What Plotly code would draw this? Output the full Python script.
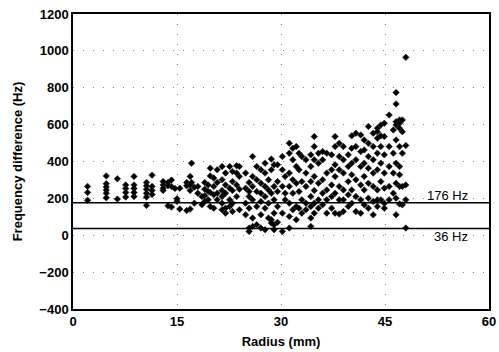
import plotly.graph_objects as go

# Radius columns (mm) and the frequency differences (Hz) read at each column
radius_cols = [2.1, 4.8, 6.4, 7.6, 8.8, 10.6, 11.4, 13.0, 13.7, 14.2, 14.7, 15.0, 15.4,
               16.4, 16.9, 17.1, 17.5, 18.0, 18.6, 19.0, 19.5, 19.8, 20.3, 20.8, 21.5,
               22.0, 22.6, 23.0, 23.6, 24.0, 24.9, 25.4, 25.9, 26.5, 27.1, 27.7, 28.2,
               28.6, 29.0, 29.5, 30.2, 30.6, 31.2, 31.7, 32.2, 32.6, 33.0, 33.6, 34.3,
               34.8, 35.4, 36.0, 36.6, 37.3, 37.8, 38.4, 39.0, 39.7, 40.2, 40.8, 41.5,
               42.0, 42.6, 43.3, 43.9, 44.4, 44.9, 45.6, 46.2, 46.6, 47.1, 47.5, 48.0]
freq_cols = [
    [265, 232, 190],
    [322, 280, 262, 245, 228, 203],
    [306, 196],
    [273, 254, 232, 207],
    [319, 273, 254, 232, 210],
    [286, 268, 250, 228, 207, 162],
    [326, 265, 243, 221],
    [291, 273, 255, 243],
    [286, 268, 160],
    [299, 265, 153],
    [254],
    [198, 185],
    [255, 142],
    [286, 268, 134],
    [319, 273, 243, 142],
    [391, 286],
    [261, 174],
    [265, 228],
    [210, 165],
    [286, 250, 214, 183],
    [273, 237, 192],
    [364, 322, 232, 156],
    [310, 265, 219, 147],
    [355, 286, 228, 192],
    [373, 301, 243, 210, 174, 138],
    [337, 273, 228, 147, 120],
    [373, 255, 192, 156],
    [346, 291, 243, 174, 129],
    [377, 337, 273, 210],
    [373, 319, 250, 138],
    [337, 255, 174, 111],
    [286, 237, 210, 147, 39, 21],
    [427, 319, 265, 192, 93, 48],
    [373, 301, 237, 156, 57],
    [355, 282, 228, 183, 111, 39],
    [391, 337, 265, 210, 147, 30],
    [301, 246, 174, 93],
    [413, 355, 228, 84, 66],
    [382, 265, 192, 120, 30, 57],
    [382, 291, 237, 156, 70],
    [427, 355, 265, 120, 21],
    [319, 228, 192],
    [499, 445, 337, 265, 174, 102, 39],
    [472, 409, 301, 228, 138],
    [481, 373, 282, 156, 84],
    [445, 355, 237, 147],
    [427, 291, 192, 120],
    [409, 337, 265, 174, 138],
    [436, 373, 291, 210, 156, 93, 48],
    [535, 481, 409, 319, 243, 174, 120],
    [445, 391, 282, 192, 147],
    [454, 409, 301, 228, 165],
    [445, 337, 246, 192, 120],
    [436, 355, 273, 210, 147],
    [535, 481, 382, 319, 228, 120],
    [499, 427, 355, 265, 192, 115],
    [481, 409, 337, 246, 192, 129],
    [436, 373, 291, 219, 156],
    [539, 472, 391, 328, 246, 174],
    [553, 481, 409, 301, 210, 129],
    [544, 454, 373, 273, 192, 120],
    [517, 463, 391, 319, 246, 165],
    [590, 499, 427, 364, 282, 201, 147],
    [553, 481, 409, 337, 265, 183, 111],
    [580, 562, 526, 445, 355, 246, 192, 156],
    [598, 539, 481, 391, 291, 192],
    [607, 535, 436, 337, 255, 174, 147],
    [652, 481, 373, 265, 192],
    [571, 445, 337, 228],
    [774, 712, 616, 598, 517, 391, 282, 201, 111],
    [625, 607, 580, 481, 373, 328, 265, 170],
    [625, 562, 445, 265, 165],
    [965, 487, 273, 192, 39],
]

x_ticks = [0, 15, 30, 45, 60]
y_ticks = [-400, -200, 0, 200, 400, 600, 800, 1000, 1200]
ref_levels = [176, 36]
ref_labels = ["176 Hz", "36 Hz"]

radius = []
freq = []
for r, ys in zip(radius_cols, freq_cols):
    for y in ys:
        radius.append(r)
        freq.append(y)

FONT = "Liberation Sans, Arial"

fig = go.Figure()
fig.add_trace(go.Scatter(
    x=radius, y=freq, mode="markers",
    marker=dict(symbol="diamond", size=5, color="black",
                line=dict(color="#222222", width=0.6)),
    showlegend=False, hoverinfo="skip"))

for lvl in ref_levels:
    fig.add_shape(type="line", xref="x", yref="y", x0=0, x1=60, y0=lvl, y1=lvl,
                  line=dict(color="black", width=1.5))

fig.add_annotation(x=57.3, y=ref_levels[0], text=ref_labels[0], showarrow=False,
                   xanchor="right", yanchor="bottom", yshift=-2,
                   font=dict(family=FONT, size=13, color="black"))
fig.add_annotation(x=57.3, y=ref_levels[1], text=ref_labels[1], showarrow=False,
                   xanchor="right", yanchor="top", yshift=2,
                   font=dict(family=FONT, size=13, color="black"))

axis_common = dict(
    showline=True, linecolor="black", linewidth=1.5, mirror=True,
    showgrid=True, gridcolor="#888888", gridwidth=1, griddash="1px,9px",
    zeroline=False, ticks="", color="black", automargin=False,
    tickfont=dict(family=FONT, size=13, color="black", weight="bold"),
)

fig.update_layout(
    width=499, height=352,
    margin=dict(l=73, r=10, t=14, b=43),
    paper_bgcolor="white", plot_bgcolor="white",
    font=dict(family=FONT, color="black"),
    xaxis=dict(range=[0, 60], tickvals=x_ticks, **axis_common,
               title=dict(text="Radius (mm)", standoff=9,
                          font=dict(family=FONT, size=13, weight="bold"))),
    yaxis=dict(range=[-400, 1200], tickvals=y_ticks, **axis_common,
               title=dict(text="Frequency difference (Hz)", standoff=14,
                          font=dict(family=FONT, size=13, weight="bold"))),
)

fig.write_html("out.html")
